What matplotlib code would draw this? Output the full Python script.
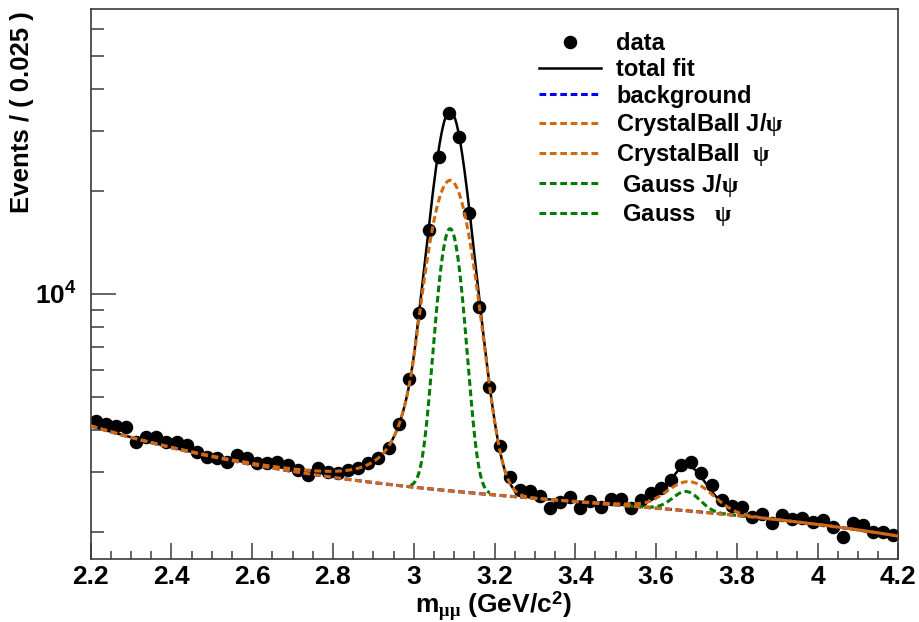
import matplotlib
matplotlib.use("Agg")
import matplotlib.pyplot as plt
import numpy as np
from matplotlib.lines import Line2D
from matplotlib.ticker import MultipleLocator, FormatStrFormatter, NullFormatter

plt.rcParams["font.family"] = ["Liberation Sans", "DejaVu Sans"]
plt.rcParams["font.weight"] = "bold"
plt.rcParams["mathtext.fontset"] = "custom"
plt.rcParams["mathtext.rm"] = "Liberation Serif"
plt.rcParams["mathtext.it"] = "Liberation Serif:italic"
plt.rcParams["mathtext.bf"] = "Liberation Sans:bold"
plt.rcParams["mathtext.sf"] = "Liberation Sans:bold"

# dimuon invariant mass, 80 bins of 0.025 GeV/c^2 between 2.2 and 4.2
mass_lo, mass_hi, bin_width = 2.2, 4.2, 0.025
counts = [
    4249, 4157, 4101, 4065, 3689, 3800, 3815, 3689, 3689, 3607,
    3447, 3333, 3297, 3222, 3372, 3297, 3187, 3187, 3222, 3151,
    3047, 2946, 3082, 3012, 2980, 3047, 3082, 3187, 3297, 3527,
    4160, 5622, 8776, 15410, 25170, 33880, 28930, 17250, 9141, 5325,
    3590, 2912, 2662, 2650, 2556, 2353, 2460, 2544, 2353, 2476,
    2378, 2505, 2505, 2353, 2488, 2603, 2692, 2847, 3151, 3222,
    2980, 2753, 2488, 2390, 2369, 2214, 2264, 2126, 2249, 2184,
    2199, 2149, 2174, 2069, 1942, 2126, 2102, 2008, 2008, 1965,
]

# fit result: log10 polynomial background in (m - 2.2), CB + Gauss per peak
bkg_coef = [3.613, -0.3593, 0.2149, -0.058]
cb_alpha, cb_n = 1.7, 3.0
jpsi_mean, jpsi_sigma_cb, jpsi_sigma_g = 3.09, 0.05, 0.028
jpsi_yield_cb, jpsi_yield_g = 18900, 12900
psi_mean_cb, psi_mean_g = 3.683, 3.675
psi_sigma_cb, psi_sigma_g = 0.055, 0.033
psi_yield_cb, psi_yield_g = 506, 320

ORANGE = "#d06a10"
GREEN = "#007a00"
FRAME = "#3a3a3a"


def background(m):
    t = m - mass_lo
    return 10 ** np.polyval(bkg_coef[::-1], t)


def crystal_ball(m, mean, sigma, alpha, n):
    t = (m - mean) / sigma
    a = (n / alpha) ** n * np.exp(-alpha ** 2 / 2)
    b = n / alpha - alpha
    out = np.exp(-0.5 * t ** 2)
    tail = t < -alpha
    out[tail] = a * (b - t[tail]) ** (-n)
    return out


def gauss(m, mean, sigma):
    return np.exp(-0.5 * ((m - mean) / sigma) ** 2)


counts = np.array(counts, dtype=float)
centers = mass_lo + bin_width * (np.arange(len(counts)) + 0.5)

m = np.linspace(mass_lo, mass_hi, 1200)
bkg = background(m)
cb_jpsi = jpsi_yield_cb * crystal_ball(m, jpsi_mean, jpsi_sigma_cb, cb_alpha, cb_n)
cb_psi = psi_yield_cb * crystal_ball(m, psi_mean_cb, psi_sigma_cb, cb_alpha, cb_n)
total = bkg + cb_jpsi + cb_psi
total += jpsi_yield_g * gauss(m, jpsi_mean, jpsi_sigma_g)
total += psi_yield_g * gauss(m, psi_mean_g, psi_sigma_g)

# gaussian components only drawn around their peaks
mg1 = np.linspace(jpsi_mean - 3.5 * jpsi_sigma_g, jpsi_mean + 3.5 * jpsi_sigma_g, 300)
g_jpsi = background(mg1) + jpsi_yield_g * gauss(mg1, jpsi_mean, jpsi_sigma_g)
mg2 = np.linspace(psi_mean_g - 4.5 * psi_sigma_g, psi_mean_g + 4.5 * psi_sigma_g, 300)
g_psi = background(mg2) + psi_yield_g * gauss(mg2, psi_mean_g, psi_sigma_g)

fig = plt.figure(figsize=(9.19, 6.22), dpi=100)
ax = fig.add_axes([0.0987, 0.1008, 0.8788, 0.8847])

ax.errorbar(centers, counts, yerr=np.sqrt(counts), fmt="o", color="black",
            ms=8.7, elinewidth=1, capsize=0, zorder=2)
ax.plot(m, total, color="black", lw=1.8, zorder=3)
dash = (2.2, 1.2)
ax.plot(m, bkg, color="blue", lw=2.2, dashes=dash, zorder=3)
ax.plot(mg1, g_jpsi, color=GREEN, lw=2.2, dashes=dash, zorder=4)
ax.plot(mg2, g_psi, color=GREEN, lw=2.2, dashes=dash, zorder=4)
ax.plot(m, bkg + cb_jpsi, color=ORANGE, lw=2.2, dashes=dash, zorder=5)
ax.plot(m, bkg + cb_psi, color=ORANGE, lw=2.2, dashes=dash, zorder=5)

ax.set_xlim(mass_lo, mass_hi)
ax.set_yscale("log")
ax.set_ylim(1667, 68500)

ax.xaxis.set_major_locator(MultipleLocator(0.2))
ax.xaxis.set_minor_locator(MultipleLocator(0.05))
ax.xaxis.set_major_formatter(FormatStrFormatter("%g"))
ax.set_yticks([1e4])
ax.set_yticklabels([r"$\mathbf{10^{4}}$"])
ax.set_yticks([k * 1e3 for k in range(2, 10)] + [k * 1e4 for k in range(2, 7)], minor=True)
ax.yaxis.set_minor_formatter(NullFormatter())

ax.tick_params(axis="both", which="both", direction="in", color=FRAME, width=1.1,
               top=False, right=False, labelsize=19)
ax.tick_params(axis="x", which="major", length=11.5, pad=4)
ax.tick_params(axis="x", which="minor", length=6)
ax.tick_params(axis="y", which="major", length=18, pad=10)
ax.tick_params(axis="y", which="minor", length=9)
for s in ax.spines.values():
    s.set_color(FRAME)
    s.set_linewidth(1.2)

fig.text(22 / 919, 1 - 11 / 622, "Events / ( 0.025 )", rotation=90,
         ha="center", va="top", fontsize=18.5)
fig.text(493 / 919, 1 - 606 / 622, r"m$_{\mathrm{\mu\mu}}$ (GeV/c$^{\mathbf{2}}$)",
         ha="center", va="center", fontsize=19)

handles = [
    Line2D([], [], marker="o", color="black", ls="none", ms=8.7),
    Line2D([], [], color="black", lw=1.8),
    Line2D([], [], color="blue", lw=2.2, dashes=dash),
    Line2D([], [], color=ORANGE, lw=2.2, dashes=dash),
    Line2D([], [], color=ORANGE, lw=2.2, dashes=dash),
    Line2D([], [], color=GREEN, lw=2.2, dashes=dash),
    Line2D([], [], color=GREEN, lw=2.2, dashes=dash),
]
labels = [
    "data",
    "total fit",
    "background",
    r"CrystalBall J/$\mathrm{\psi}$",
    r"CrystalBall  $\mathrm{\psi}$",
    r" Gauss J/$\mathrm{\psi}$",
    r" Gauss   $\mathrm{\psi}$",
]
ax.legend(handles, labels, loc="upper left", bbox_to_anchor=(0.555, 0.958),
          frameon=False, fontsize=17, handlelength=2.63, handletextpad=0.64,
          labelspacing=0.14, borderpad=0, borderaxespad=0)

fig.savefig("out.png", dpi=100)
